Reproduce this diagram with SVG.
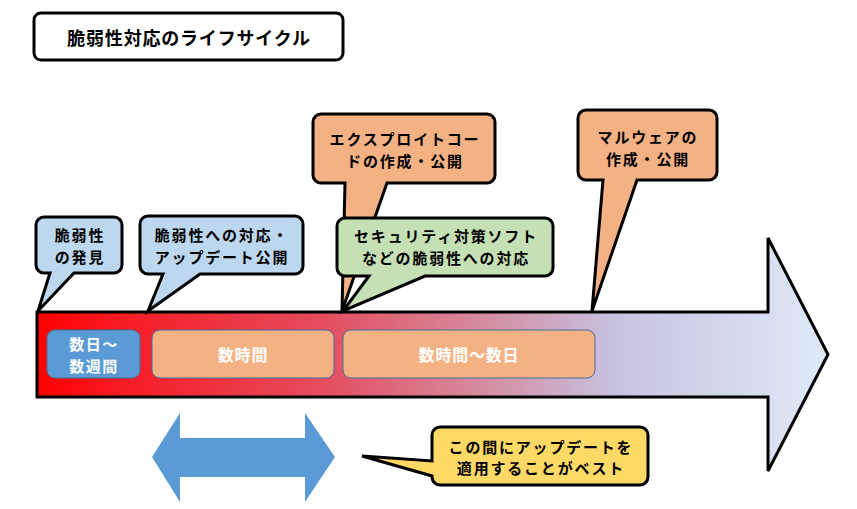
<svg xmlns="http://www.w3.org/2000/svg" width="857" height="509" viewBox="0 0 857 509">
<defs>
<linearGradient id="tl" x1="37" y1="0" x2="828" y2="0" gradientUnits="userSpaceOnUse">
<stop offset="0" stop-color="#ff0000"/>
<stop offset="0.1" stop-color="#f71a22"/>
<stop offset="0.36" stop-color="#e54c5f"/>
<stop offset="0.55" stop-color="#d6889b"/>
<stop offset="0.73" stop-color="#c7c2e1"/>
<stop offset="1" stop-color="#dfeaf8"/>
</linearGradient>
<style>
.t{font-family:"Noto Sans CJK JP","Noto Sans CJK SC",sans-serif;font-weight:700;text-anchor:middle;dominant-baseline:central}
.c{font-size:15px;letter-spacing:1.8px;fill:#000}
.w{font-size:16px;letter-spacing:0.8px;fill:#fff}
.s{font-size:15px;letter-spacing:1.5px}
.co{stroke:#000;stroke-width:3;stroke-linejoin:miter}
.ib{stroke:#41719c;stroke-width:1}
</style>
</defs>
<rect width="857" height="509" fill="#fff"/>
<g id="title">
<rect x="34" y="13" width="309" height="47" rx="7" fill="#fff" stroke="#000" stroke-width="3"/>
<text class="t" x="189" y="37" font-size="18" letter-spacing="0.8">脆弱性対応のライフサイクル</text>
</g>
<g id="timeline">
<polygon points="37,312 768,312 768,238 828,354.5 768,471 768,397 37,397" fill="url(#tl)" stroke="#000" stroke-width="3"/>
</g>
<g id="period-days-weeks">
<rect class="ib" x="47" y="330" width="93" height="48" rx="8" fill="#5b9bd5"/>
<text class="t w s" x="94" y="343">数日～</text>
<text class="t w s" x="94" y="365">数週間</text>
</g>
<g id="period-hours">
<rect class="ib" x="152" y="330" width="182" height="48" rx="8" fill="#f4b183"/>
<text class="t w" x="243" y="354">数時間</text>
</g>
<g id="period-hours-days">
<rect class="ib" x="343" y="330" width="252" height="48" rx="8" fill="#f4b183"/>
<text class="t w" x="469" y="354">数時間～数日</text>
</g>
<g id="exploit">
<path class="co" fill="#f4b183" d="M321,114 H487 A8,8 0 0 1 495,122 V175 A8,8 0 0 1 487,183 H387 L342,311 L345,183 H321 A8,8 0 0 1 313,175 V122 A8,8 0 0 1 321,114 Z"/>
<text class="t c" x="405" y="138">エクスプロイトコー</text>
<text class="t c" x="405" y="160">ドの作成・公開</text>
</g>
<g id="discovery">
<path class="co" fill="#bdd7ee" d="M44,217 H114 A8,8 0 0 1 122,225 V265 A8,8 0 0 1 114,273 H74 L38,311 L50,273 H44 A8,8 0 0 1 36,265 V225 A8,8 0 0 1 44,217 Z"/>
<text class="t c" x="80" y="234">脆弱性</text>
<text class="t c" x="80" y="256">の発見</text>
</g>
<g id="patch-release">
<path class="co" fill="#bdd7ee" d="M148,216 H295 A8,8 0 0 1 303,224 V266 A8,8 0 0 1 295,274 H200 L148,311 L163,274 H148 A8,8 0 0 1 140,266 V224 A8,8 0 0 1 148,216 Z"/>
<text class="t c" x="222" y="234">脆弱性への対応・</text>
<text class="t c" x="222" y="256">アップデート公開</text>
</g>
<g id="security-software">
<path class="co" fill="#c5e0b4" d="M345,218 H545 A8,8 0 0 1 553,226 V268 A8,8 0 0 1 545,276 H425 L343,311 L369,276 H345 A8,8 0 0 1 337,268 V226 A8,8 0 0 1 345,218 Z"/>
<text class="t c" x="446" y="235">セキュリティ対策ソフト</text>
<text class="t c" x="446" y="257">などの脆弱性への対応</text>
</g>
<g id="malware">
<path class="co" fill="#f4b183" d="M586,110 H709 A8,8 0 0 1 717,118 V172 A8,8 0 0 1 709,180 H637 L592,311 L603,180 H586 A8,8 0 0 1 578,172 V118 A8,8 0 0 1 586,110 Z"/>
<text class="t c" x="648" y="136">マルウェアの</text>
<text class="t c" x="648" y="158">作成・公開</text>
</g>
<g id="connectors">
<polygon id="span-arrow" points="152,457 180,413 180,438 305,438 305,413 335,457 305,502 305,477 180,477 180,502" fill="#5b9bd5"/>
</g>
<g id="best-timing">
<path class="co" fill="#ffd966" d="M440,427 H640 A8,8 0 0 1 648,435 V477 A8,8 0 0 1 640,485 H440 A8,8 0 0 1 432,477 V476 L362,456 L432,461 V435 A8,8 0 0 1 440,427 Z"/>
<text class="t c" x="541" y="446">この間にアップデートを</text>
<text class="t c" x="541" y="467">適用することがベスト</text>
</g>
</svg>
